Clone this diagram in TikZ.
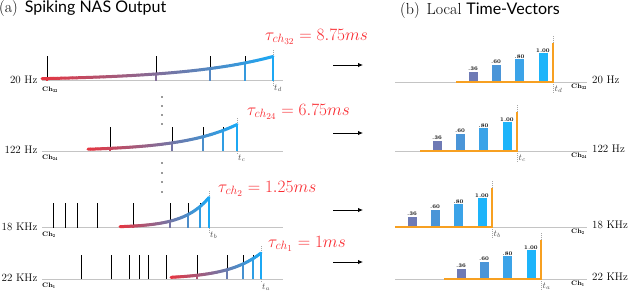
\documentclass[tikz,border=0pt]{standalone}
\usepackage{fontspec}
\newfontfamily\lato{Lato}
\usetikzlibrary{arrows.meta}
\definecolor{cred}{HTML}{E8343F}
\definecolor{cblue}{HTML}{1CA8F4}
\definecolor{taured}{HTML}{FA2A30}
\definecolor{basegray}{HTML}{C4C4C4}
\definecolor{orng}{HTML}{F7A021}
\definecolor{bara}{HTML}{6E7AB5}
\definecolor{barb}{HTML}{4A95D8}
\definecolor{barc}{HTML}{3BA3E8}
\definecolor{bard}{HTML}{1DB4FA}
\tikzset{
 baseln/.style={draw=basegray, line width=0.9pt},
 blk/.style={draw=black, line width=0.8pt},
 cspk/.style={line width=2.8pt},
 crv/.style={line width=3pt, line cap=round},
 tdash/.style={draw=gray!70, line width=0.5pt, dash pattern=on 1pt off 1pt},
 frq/.style={font=\fontsize{11}{12}\selectfont, inner sep=0pt},
 chl/.style={font=\fontsize{6.5}{7}\selectfont\bfseries, inner sep=0pt},
 tl/.style={font=\fontsize{9}{10}\selectfont, text=black!70, inner sep=0pt},
 taul/.style={font=\fontsize{18}{20}\selectfont, text=taured, inner sep=0pt, anchor=west},
 arr/.style={-{Latex[length=5pt,width=4.5pt]}, line width=0.9pt},
 orangeline/.style={draw=orng, line width=2pt},
 orangev/.style={draw=orng, line width=1.4pt},
 vlab/.style={font=\fontsize{5.5}{6}\selectfont\bfseries, inner sep=0.5pt, anchor=south},
 dotc/.style={fill=black!80, draw=none},
 ttl/.style={anchor=west, inner sep=0pt, font=\fontsize{16}{18}\selectfont},
}
% #1 yb, #2 xs, #3 xe, #4 H, #5 L
\newcommand\expcurve[5]{%
  \foreach \i in {0,...,59}{%
    \pgfmathsetmacro\cxa{#2+(#3-#2)*\i/60}%
    \pgfmathsetmacro\cxb{#2+(#3-#2)*(\i+1)/60}%
    \pgfmathsetmacro\cya{#1-#4*exp(-(#3-\cxa)/#5)}%
    \pgfmathsetmacro\cyb{#1-#4*exp(-(#3-\cxb)/#5)}%
    \pgfmathsetmacro\cff{(\i+0.5)/60*100}%
    \draw[crv, cblue!\cff!cred] (\cxa,\cya) -- (\cxb,\cyb);
  }}
% #1 yb, #2 xs, #3 xe, #4 H, #5 L, #6 list
\newcommand\colspikes[6]{%
  \foreach \sx in {#6}{%
    \pgfmathsetmacro\cff{(\sx-#2)/(#3-#2)*100}%
    \pgfmathsetmacro\csy{#1-#4*exp(-(#3-\sx)/#5)}%
    \draw[cspk, cblue!\cff!cred] (\sx,#1) -- (\sx,\csy);
  }}
\newcommand\blkspikes[2]{%
  \foreach \sx in {#2}{\draw[blk] (\sx,#1) -- (\sx,#1-24.5);}}
% #1 yb, #2 xv, #3 t, #4 ch, #5 freq, #6 name
\newcommand\vecrow[6]{%
  \draw[baseln] (395,#1) -- (587,#1);
  \foreach \off/\v/\col/\lab in {80/0.36/bara/.36, 57/0.60/barb/.60, 33.5/0.80/barc/.80, 10/1.00/bard/1.00}{%
    \fill[\col] (#2-\off-4.5,#1) rectangle (#2-\off+4.5,#1-29*\v);
    \node[vlab] at (#2-\off,#1-29*\v) {\lab};
  }
  \draw[tdash] (#2,#1-39) -- (#2,#1-46);
  \draw[tdash] (#2,#1) -- (#2,#1+11);
  \draw[orangeline] (#2-97,#1) -- (#2,#1);
  \draw[orangev] (#2,#1+1) -- (#2,#1-39);
  \node[tl, anchor=west] (#6t) at (#2+1.5,#1+7.5) {$t_#3$};
  \node[chl, anchor=west] (#6ch) at (571,#1+5) {Ch$_{\mathbf{#4}}$};
  \node[frq, anchor=base west] (#6f) at (592,#1+1.5) {#5};
}
\begin{document}
\begin{tikzpicture}[x=1pt,y=-1pt]
\useasboundingbox[fill=white] (0,0) rectangle (640,306);
% titles
\node[ttl] (ta) at (-1,8.5) {(a)\hspace{7pt}{\lato Spiking NAS Output}};
\node[ttl] (tb) at (400,10.5) {(b)\hspace{7pt}Local {\lato Time-Vectors}};

% ---- row 1
\draw[baseln] (42,80.5) -- (283,80.5);
\blkspikes{80.5}{47,156,210,245}
\expcurve{80.5}{42}{273}{24}{90}
\colspikes{80.5}{42}{273}{24}{90}{47,156,210,245,273}
\draw[tdash] (273,55) -- (273,49);
\draw[tdash] (273,80.5) -- (273,85);
\node[frq, anchor=base east] (l1f) at (37.5,83) {20 Hz};
\node[chl, anchor=west] (l1ch) at (42,89.5) {Ch$_{\mathbf{32}}$};
\node[tl, anchor=west] (l1t) at (274,88) {$t_d$};
\node[taul] (tau1) at (265,37) {$\tau_{ch_{32}} = 8.75ms$};

% ---- row 2
\draw[baseln] (42,151) -- (283,151);
\blkspikes{151}{110,172,203,223}
\expcurve{151}{88}{237}{26.5}{55}
\colspikes{151}{88}{237}{26.5}{55}{110,172,203,223,237}
\draw[tdash] (237,123) -- (237,117);
\draw[tdash] (237,151) -- (237,155);
\node[frq, anchor=base east] (l2f) at (37.5,153.5) {122 Hz};
\node[chl, anchor=west] (l2ch) at (42,158) {Ch$_{\mathbf{24}}$};
\node[tl, anchor=west] (l2t) at (238,158.5) {$t_c$};
\node[taul] (tau2) at (247,112) {$\tau_{ch_{24}} = 6.75ms$};

% ---- row 3
\draw[baseln] (42,227.5) -- (283,227.5);
\blkspikes{227.5}{53,65,77,97,133,170,188,200}
\expcurve{227.5}{120}{209}{30}{25}
\colspikes{227.5}{120}{209}{30}{25}{133,170,188,200,209}
\draw[tdash] (209,196) -- (209,190);
\draw[tdash] (209,227.5) -- (209,232);
\node[frq, anchor=base east] (l3f) at (37.5,230) {18 KHz};
\node[chl, anchor=west] (l3ch) at (42,234.5) {Ch$_{\mathbf{2}}$};
\node[tl, anchor=west] (l3t) at (210,235) {$t_b$};
\node[taul] (tau3) at (218,189) {$\tau_{ch_{2}} = 1.25ms$};

% ---- row 4
\draw[baseln] (42,279) -- (283,279);
\blkspikes{279}{81,111,129,139,148,166,197,227,243,253}
\expcurve{279}{171}{261}{26}{33}
\colspikes{279}{171}{261}{26}{33}{197,227,243,253,261}
\draw[tdash] (261,251) -- (261,245);
\draw[tdash] (261,279) -- (261,283);
\node[frq, anchor=base east] (l4f) at (37.5,281.5) {22 KHz};
\node[chl, anchor=west] (l4ch) at (42,286) {Ch$_{\mathbf{1}}$};
\node[tl, anchor=west] (l4t) at (262,287) {$t_a$};
\node[taul] (tau4) at (268,244) {$\tau_{ch_{1}} = 1ms$};

% dots
\foreach \dy in {97,106,115,124,163,173,182,192}{\fill[dotc] (162,\dy) circle (0.8);}

% arrows
\foreach \ay/\nm in {65/a1,133/a2,210/a3,262/a4}{
  \coordinate (\nm s) at (333,\ay);
  \coordinate (\nm e) at (363,\ay);
  \draw[arr] (\nm s) -- (\nm e);
}

% right panel
\vecrow{82}{553}{d}{32}{20 Hz}{r1}
\vecrow{151}{517}{c}{24}{122 Hz}{r2}
\vecrow{227}{492}{b}{2}{18 KHz}{r3}
\vecrow{279}{541}{a}{1}{22 KHz}{r4}
\end{tikzpicture}
\end{document}
